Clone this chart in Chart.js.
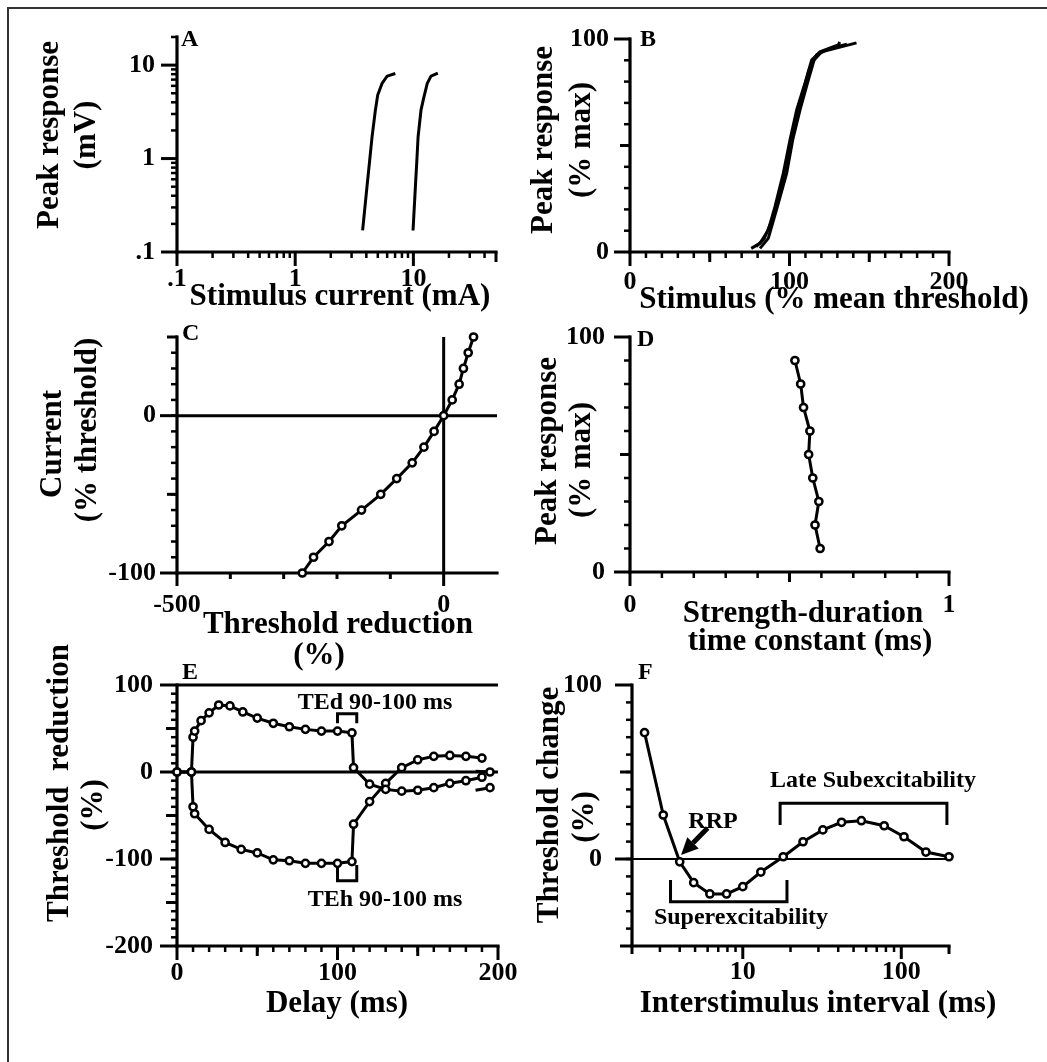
<!DOCTYPE html>
<html>
<head>
<meta charset="utf-8">
<title>Nerve excitability panels A-F</title>
<script src="https://cdn.jsdelivr.net/npm/chart.js@4.4.1/dist/chart.umd.min.js"></script>
<style>
  html, body { margin: 0; padding: 0; background: #fff; }
  #page { position: relative; width: 1047px; height: 1062px; overflow: hidden; background: #fff; }
  #page canvas { position: absolute; left: 0; top: 0; }
  #frame { position: absolute; left: 7px; top: 7px; right: -10px; bottom: -10px; border-top: 2px solid #333; border-left: 2px solid #333; }
</style>
</head>
<body>
<div id="page">
  <div id="frame"></div>
  <canvas id="chartA" width="1047" height="1062"></canvas>
  <canvas id="chartB" width="1047" height="1062"></canvas>
  <canvas id="chartC" width="1047" height="1062"></canvas>
  <canvas id="chartD" width="1047" height="1062"></canvas>
  <canvas id="chartE" width="1047" height="1062"></canvas>
  <canvas id="chartF" width="1047" height="1062"></canvas>
</div>
<script>
// ---- A: stimulus-response curves (log-log), two stimulation sites
const aSite1Current = [3.72, 4.05, 4.27, 4.47, 4.77, 4.99, 5.43, 5.99, 7.03];
const aSite1Response = [0.17, 0.50, 0.96, 1.71, 3.30, 4.78, 6.37, 7.62, 8.14];
const aSite2Current = [9.93, 10.4, 10.7, 10.96, 11.6, 12.2, 13.1, 14.1, 16.1];
const aSite2Response = [0.17, 0.50, 0.96, 1.71, 3.30, 4.40, 6.37, 7.62, 8.20];
const aTickValues = [0.1, 1, 10];
const aTickLabels = ['.1', '1', '10'];

// ---- B: normalised stimulus-response curves
const bCurve1Stim = [76, 81.5, 86.7, 90.9, 96.1, 100.3, 104.5, 109.7, 113.9, 119.1, 130.6, 131.5];
const bCurve1Resp = [1.7, 4.1, 10.3, 21.3, 36.9, 52.6, 66.7, 79.2, 90.1, 94, 97.2, 98.6];
const bCurve2Stim = [81.5, 86.7, 92.4, 98.2, 102, 106.6, 111.2, 115.4, 120.2, 131.7, 142];
const bCurve2Resp = [1.7, 6.4, 21.3, 36.9, 52.6, 66.7, 79.2, 90.1, 94, 96.2, 98.2];
const bCurve3Stim = [79, 84, 89, 94.5, 99, 103, 108, 112.5, 117, 125, 136];
const bCurve3Resp = [2.5, 6, 15, 30, 45, 60, 74, 86, 92.5, 95.5, 97.5];
const bXTicks = [0, 100, 200];
const bYTicks = [0, 100];

// ---- C: current-threshold relationship
const cThresholdReduction = [-265, -244, -215, -191, -154, -118, -88, -59, -37, -18, 0, 16, 29, 37, 46, 56];
const cCurrent = [-100, -90, -80, -70, -60, -50, -40, -30, -20, -10, 0, 10, 20, 30, 40, 50];
const cXTicks = [-500, 0];
const cYTicks = [-100, 0];

// ---- D: strength-duration time constant vs peak response
const dTimeConstant = [0.517, 0.535, 0.544, 0.564, 0.560, 0.573, 0.592, 0.580, 0.596];
const dPeakResponse = [90, 80, 70, 60, 50, 40, 30, 20, 10];
const dXTicks = [0, 1];
const dYTicks = [0, 100];

// ---- E: threshold electrotonus
const eTedDelay = [0, 9, 10, 11, 15, 20, 26, 33, 41, 50, 60, 70, 80, 90, 100, 109, 110, 120, 130, 140, 150, 160, 170, 180, 190];
const eTedReduction = [0, 0, 40, 47, 59, 68, 77, 76, 69, 62, 56, 52, 49, 47, 47, 45, 5, -14, -20, -22, -21, -18, -13, -10, -6];
const eTehDelay = [0, 9, 10, 11, 20, 30, 40, 50, 60, 70, 80, 90, 100, 109, 110, 120, 130, 140, 150, 160, 170, 180, 190];
const eTehReduction = [0, 0, -40, -48, -66, -81, -89, -93, -101, -102, -105, -105, -105, -103, -60, -34, -13, 5, 14, 18, 19, 18, 16];
const eTailUpperDelay = [186, 195];
const eTailUpperReduction = [1, 0];
const eTailLowerDelay = [186, 195];
const eTailLowerReduction = [-21, -18];
const eTedBracketX = [100, 100, 112, 112];
const eTedBracketY = [56, 67, 67, 56];
const eTehBracketX = [100, 100, 112, 112];
const eTehBracketY = [-107, -125, -125, -107];
const eXTicks = [0, 100, 200];
const eYTicks = [-200, -100, 0, 100];

// ---- F: recovery cycle
const fInterval = [2.4, 3.15, 4.0, 4.9, 6.2, 7.9, 10, 13, 18, 24, 32, 42, 56, 78, 104, 143, 200];
const fThresholdChange = [72.6, 25.3, -1.6, -13.6, -20.1, -20.1, -15.9, -7.5, 1.3, 9.9, 16.7, 21.1, 22, 19.1, 12.8, 4, 1.3];
const fLateBracketX = [17.2, 17.2, 194, 194];
const fLateBracketY = [19.5, 32, 32, 19.5];
const fSuperBracketX = [3.5, 3.5, 19, 19];
const fSuperBracketY = [-12, -24.5, -24.5, -12];
const fArrowX = [6.0, 4.08];
const fArrowY = [17.8, 2.3];
const fXTicks = [10, 100];
const fYTicks = [0, 100];

const FONT = '"Liberation Serif", "Times New Roman", serif';
const W = 1047, H = 1062;
const Y_BOX = 120, X_BOX = 60;   // room kept for the tick labels

function pts(xs, ys) { return xs.map((x, i) => ({ x, y: ys[i] })); }
function steps(lo, hi, step) { const out = []; for (let v = lo; v <= hi + 1e-9; v += step) out.push(+v.toFixed(6)); return out; }
function logMinors(lo, hi) {
  const out = [];
  for (let d = 0.1; d < hi; d *= 10) for (let k = 2; k <= 9; k++) { const v = +(k * d).toPrecision(3); if (v >= lo && v <= hi) out.push(v); }
  return out;
}

function curve(xs, ys) {
  return { data: pts(xs, ys), showLine: true, borderColor: '#000', borderWidth: 3, pointRadius: 0, tension: 0, clip: false };
}
function marked(xs, ys) {
  return { data: pts(xs, ys), showLine: true, borderColor: '#000', borderWidth: 3, tension: 0, clip: false,
    pointRadius: 3.6, pointBackgroundColor: '#fff', pointBorderColor: '#000', pointBorderWidth: 2.5 };
}

function line(ctx, x1, y1, x2, y2) { ctx.beginPath(); ctx.moveTo(x1, y1); ctx.lineTo(x2, y2); ctx.stroke(); }

// axes, ticks, reference lines and all free text of one panel
const panelDecor = {
  id: 'panelDecor',
  beforeDatasetsDraw(chart, args, o) {
    const { ctx, chartArea: a } = chart;
    const xs = chart.scales.x, ys = chart.scales.y;
    ctx.save();
    ctx.strokeStyle = '#000';
    ctx.lineCap = 'butt';
    ctx.lineWidth = o.refWidth || 3;
    (o.hLines || []).forEach(v => { const y = ys.getPixelForValue(v); line(ctx, a.left, y, a.right, y); });
    (o.vLines || []).forEach(v => { const x = xs.getPixelForValue(v); line(ctx, x, a.top, x, a.bottom); });
    o.yTicks.forEach(([vals, len, w]) => {
      ctx.lineWidth = w;
      vals.forEach(v => { const y = ys.getPixelForValue(v); line(ctx, a.left - len, y, a.left, y); });
    });
    o.xTicks.forEach(([vals, len, w]) => {
      ctx.lineWidth = w;
      vals.forEach(v => { const x = xs.getPixelForValue(v); line(ctx, x, a.bottom, x, a.bottom + len); });
    });
    ctx.lineWidth = 3.2;
    ctx.lineCap = 'square';
    line(ctx, a.left, a.top, a.left, a.bottom);
    line(ctx, a.left, a.bottom, a.right, a.bottom);
    ctx.restore();
  },
  afterDraw(chart, args, o) {
    const ctx = chart.ctx;
    const xs = chart.scales.x, ys = chart.scales.y;
    ctx.save();
    ctx.fillStyle = '#000';
    ctx.strokeStyle = '#000';
    ctx.textBaseline = 'middle';
    if (o.arrow) {
      const x1 = xs.getPixelForValue(o.arrow.x[0]), y1 = ys.getPixelForValue(o.arrow.y[0]);
      const x2 = xs.getPixelForValue(o.arrow.x[1]), y2 = ys.getPixelForValue(o.arrow.y[1]);
      const ang = Math.atan2(y2 - y1, x2 - x1), head = 17, half = 8;
      const bx = x2 - head * Math.cos(ang), by = y2 - head * Math.sin(ang);
      ctx.lineWidth = 5;
      line(ctx, x1, y1, bx, by);
      ctx.beginPath();
      ctx.moveTo(x2, y2);
      ctx.lineTo(bx + half * Math.sin(ang), by - half * Math.cos(ang));
      ctx.lineTo(bx - half * Math.sin(ang), by + half * Math.cos(ang));
      ctx.closePath();
      ctx.fill();
    }
    (o.texts || []).forEach(t => {
      ctx.font = 'bold ' + t.size + 'px ' + FONT;
      ctx.textAlign = t.align || 'center';
      ctx.save();
      ctx.translate(t.x, t.y);
      if (t.rot) ctx.rotate(-Math.PI / 2);
      ctx.fillText(t.text, 0, 0);
      ctx.restore();
    });
    ctx.restore();
  }
};

function makePanel(id, area, xCfg, yCfg, datasets, decor) {
  const tickFont = { family: FONT, size: 26, weight: 'bold', lineHeight: 1 };
  const axis = (cfg, pos) => ({
    type: cfg.type || 'linear',
    position: pos,
    min: cfg.min,
    max: cfg.max,
    grid: { display: false, drawTicks: false },
    border: { display: false },
    ticks: {
      color: '#000', font: tickFont, padding: cfg.pad, autoSkip: false, maxRotation: 0, minRotation: 0,
      callback: (v, i) => cfg.labels[i]
    },
    afterBuildTicks: s => { s.ticks = cfg.values.map(v => ({ value: v })); },
    afterFit: s => { if (pos === 'left') s.width = Y_BOX; else s.height = X_BOX; }
  });
  return new Chart(document.getElementById(id), {
    type: 'scatter',
    data: { datasets },
    options: {
      responsive: false,
      animation: false,
      devicePixelRatio: 1,
      events: [],
      layout: { padding: { left: area[0] - Y_BOX, top: area[1], right: W - area[2], bottom: H - area[3] - X_BOX } },
      scales: { x: axis(xCfg, 'bottom'), y: axis(yCfg, 'left') },
      plugins: { legend: { display: false }, tooltip: { enabled: false }, panelDecor: decor }
    },
    plugins: [panelDecor]
  });
}

const T = 31, N = 24;

// A
makePanel('chartA', [177, 37, 496, 252],
  { type: 'logarithmic', min: 0.1, max: 50, values: aTickValues, labels: aTickLabels, pad: 14 },
  { type: 'logarithmic', min: 0.1, max: 20, values: aTickValues, labels: aTickLabels, pad: 22 },
  [curve(aSite1Current, aSite1Response), curve(aSite2Current, aSite2Response)],
  {
    xTicks: [[aTickValues, 14, 3], [[50], 10, 3], [logMinors(0.1, 40), 6, 2.5]],
    yTicks: [[aTickValues, 16, 3], [logMinors(0.1, 20), 6, 2.5]],
    texts: [
      { text: 'A', x: 181, y: 40, size: N, align: 'left' },
      { text: 'Stimulus current (mA)', x: 340, y: 297, size: T },
      { text: 'Peak response', x: 50, y: 135, size: T, rot: true },
      { text: '(mV)', x: 87, y: 135, size: T, rot: true }
    ]
  });

// B
makePanel('chartB', [630, 39, 949, 252],
  { min: 0, max: 200, values: bXTicks, labels: bXTicks.map(String), pad: 17 },
  { min: 0, max: 100, values: bYTicks, labels: bYTicks.map(String), pad: 21 },
  [curve(bCurve1Stim, bCurve1Resp), curve(bCurve2Stim, bCurve2Resp), curve(bCurve3Stim, bCurve3Resp)],
  {
    xTicks: [[bXTicks, 14, 3], [[50, 150], 10, 3], [steps(10, 190, 10), 6, 2.5]],
    yTicks: [[bYTicks, 16, 3], [[50], 10, 3], [steps(10, 90, 10), 6, 2.5]],
    texts: [
      { text: 'B', x: 640, y: 40, size: N, align: 'left' },
      { text: 'Stimulus (% mean threshold)', x: 834, y: 300, size: T },
      { text: 'Peak response', x: 544, y: 140, size: T, rot: true },
      { text: '(% max)', x: 582, y: 140, size: T, rot: true }
    ]
  });

// C
makePanel('chartC', [177, 337, 497, 573],
  { min: -500, max: 100, values: cXTicks, labels: cXTicks.map(String), pad: 19 },
  { min: -100, max: 50, values: cYTicks, labels: cYTicks.map(String), pad: 21 },
  [marked(cThresholdReduction, cCurrent)],
  {
    hLines: [0], vLines: [0], refWidth: 3,
    xTicks: [[cXTicks, 13, 3], [[-400, -300, -200, -100], 6, 3]],
    yTicks: [[cYTicks, 17, 3], [[50, -50], 10, 3], [steps(-90, 40, 10), 6, 2.5]],
    texts: [
      { text: 'C', x: 182, y: 334, size: N, align: 'left' },
      { text: 'Threshold reduction', x: 338, y: 625, size: T },
      { text: '(%)', x: 319, y: 656, size: T },
      { text: 'Current', x: 53, y: 444, size: T, rot: true },
      { text: '(% threshold)', x: 88, y: 430, size: T, rot: true }
    ]
  });

// D
makePanel('chartD', [630, 337, 949, 572],
  { min: 0, max: 1, values: dXTicks, labels: dXTicks.map(String), pad: 20 },
  { min: 0, max: 100, values: dYTicks, labels: dYTicks.map(String), pad: 25 },
  [marked(dTimeConstant, dPeakResponse)],
  {
    xTicks: [[dXTicks, 14, 3], [[0.5], 10, 3], [steps(0.1, 0.9, 0.1), 6, 2.5]],
    yTicks: [[dYTicks, 16, 3], [[50], 10, 3], [steps(10, 90, 10), 6, 2.5]],
    texts: [
      { text: 'D', x: 637, y: 340, size: N, align: 'left' },
      { text: 'Strength-duration', x: 803, y: 614, size: T },
      { text: 'time constant (ms)', x: 810, y: 642, size: T },
      { text: 'Peak response', x: 548, y: 451, size: T, rot: true },
      { text: '(% max)', x: 582, y: 460, size: T, rot: true }
    ]
  });

// E
const eTailUpper = marked(eTailUpperDelay, eTailUpperReduction);
eTailUpper.pointRadius = [0, 3.6];
const eTailLower = marked(eTailLowerDelay, eTailLowerReduction);
eTailLower.pointRadius = [0, 3.6];
makePanel('chartE', [177, 685, 498, 946],
  { min: 0, max: 200, values: eXTicks, labels: eXTicks.map(String), pad: 14 },
  { min: -200, max: 100, values: eYTicks, labels: eYTicks.map(String), pad: 24 },
  [marked(eTedDelay, eTedReduction), marked(eTehDelay, eTehReduction), eTailUpper, eTailLower,
   curve(eTedBracketX, eTedBracketY), curve(eTehBracketX, eTehBracketY)],
  {
    hLines: [0, 100], refWidth: 3,
    xTicks: [[eXTicks, 14, 3], [[50, 150], 10, 3], [steps(10, 190, 10), 6, 2.5]],
    yTicks: [[eYTicks, 17, 3], [[-150, -50, 50], 11, 3], [steps(-190, 90, 10), 6, 2.5]],
    texts: [
      { text: 'E', x: 182, y: 673, size: N, align: 'left' },
      { text: 'TEd 90-100 ms', x: 375, y: 703, size: N },
      { text: 'TEh 90-100 ms', x: 385, y: 900, size: N },
      { text: 'Delay (ms)', x: 337, y: 1004, size: T },
      { text: 'Threshold  reduction', x: 60, y: 783, size: T, rot: true },
      { text: '(%)', x: 94, y: 805, size: T, rot: true }
    ]
  });

// F
makePanel('chartF', [632, 685, 949, 946],
  { type: 'logarithmic', min: 2, max: 200, values: fXTicks, labels: fXTicks.map(String), pad: 13 },
  { min: -50, max: 100, values: fYTicks, labels: fYTicks.map(String), pad: 30 },
  [marked(fInterval, fThresholdChange), curve(fLateBracketX, fLateBracketY), curve(fSuperBracketX, fSuperBracketY)],
  {
    hLines: [0], refWidth: 2,
    arrow: { x: fArrowX, y: fArrowY },
    xTicks: [[fXTicks, 13, 3], [[2, 200], 8, 3], [logMinors(3, 90).filter(v => v !== 10), 6, 2.5]],
    yTicks: [[fYTicks, 17, 3], [[-50, 50], 12, 3], [steps(-40, 90, 10), 6, 2.5]],
    texts: [
      { text: 'F', x: 638, y: 673, size: N, align: 'left' },
      { text: 'Late Subexcitability', x: 873, y: 781, size: N },
      { text: 'RRP', x: 713, y: 822, size: N },
      { text: 'Superexcitability', x: 741, y: 918, size: N },
      { text: 'Interstimulus interval (ms)', x: 818, y: 1004, size: T },
      { text: 'Threshold change', x: 550, y: 805, size: T, rot: true },
      { text: '(%)', x: 585, y: 817, size: T, rot: true }
    ]
  });
</script>
</body>
</html>
